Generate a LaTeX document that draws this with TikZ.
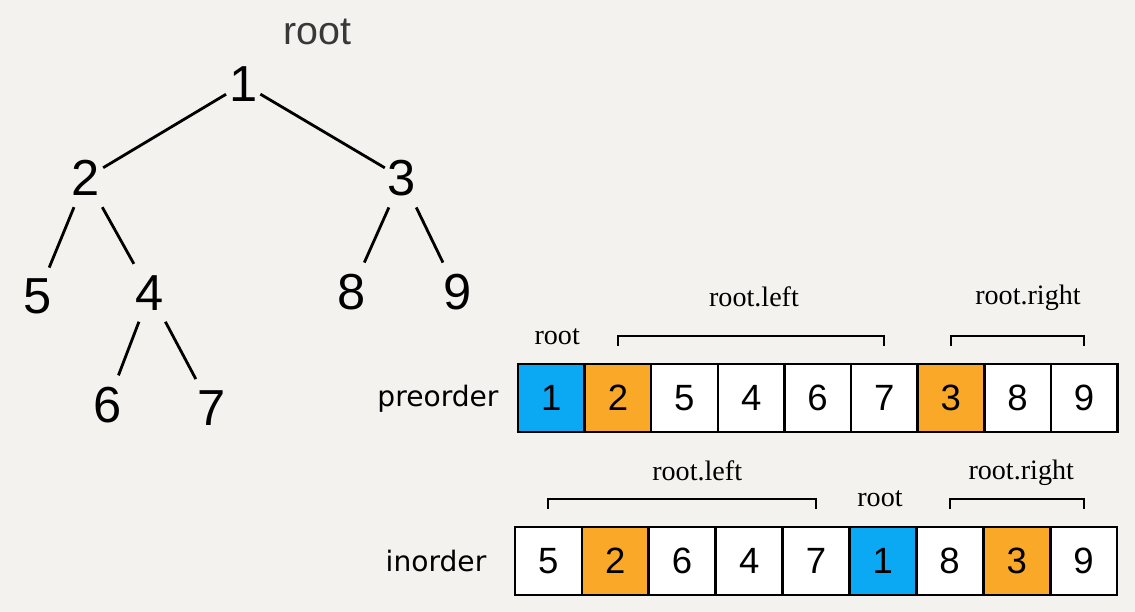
\documentclass[tikz,border=0pt]{standalone}
\usepackage{fontspec}
\setmainfont{Liberation Serif}
\newfontfamily\digitfont{Liberation Sans}
\newfontfamily\tagfont{DejaVu Sans}
\usepackage{tikz}
\usepackage{xcolor}
\definecolor{paper}{HTML}{F3F2EF}
\definecolor{rootblue}{HTML}{0BA9F4}
\definecolor{suborange}{HTML}{F9A828}

\begin{document}
\begin{tikzpicture}[
		t/.style = {font=\digitfont\fontsize{36}{40}\selectfont, inner xsep=2pt, inner ysep=8pt},
		r/.style = {line width=2pt},
		cell/.style = {rectangle, draw=black, fill=white, line width=1.7pt, minimum width=1.665cm, minimum height=1.7cm, inner sep=0, font=\digitfont\fontsize{26}{30}\selectfont},
		hot/.style = {fill=rootblue},
		sub/.style = {fill=suborange},
		br/.style = {line width=1.5pt},
		lbl/.style = {anchor=base, inner sep=0, font=\fontsize{20}{24}\selectfont},
		ord/.style = {anchor=base, inner sep=0, font=\tagfont\fontsize{20}{24}\selectfont}
		]
		
		%Background
		\fill[paper]	(0, 0)	rectangle	(28.375, 15.3);
		
		%Tree
		\node[anchor=base, inner sep=0, text=black!78, font=\digitfont\fontsize{28}{32}\selectfont]	(rt)	at	(7.93, 14.175)	{root};
		\node[t]	(1)	at	(6.08, 13.2)	{1};
		\node[t]	(2)	at	(2.15, 10.85)	{2};
		\node[t]	(3)	at	(10.05, 10.85)	{3};
		\node[t]	(5)	at	(0.93, 7.88)	{5};
		\node[t]	(4)	at	(3.75, 7.98)	{4};
		\node[t]	(8)	at	(8.78, 8.0)	{8};
		\node[t]	(9)	at	(11.43, 8.0)	{9};
		\node[t]	(6)	at	(2.68, 5.18)	{6};
		\node[t]	(7)	at	(5.28, 5.1)	{7};
		
		%Lines
		\draw[r]	(1)	--	(2);
		\draw[r]	(1)	--	(3);
		\draw[r]	(2)	--	(5);
		\draw[r]	(2)	--	(4);
		\draw[r]	(4)	--	(6);
		\draw[r]	(4)	--	(7);
		\draw[r]	(3)	--	(8);
		\draw[r]	(3)	--	(9);
		
		%Preorder
		\node[ord]	(pre)	at	(10.95, 5.125)	{preorder};
		\node[cell, hot]	(p1)	at	(13.78, 5.35)	{1};
		\node[cell, sub]	(p2)	at	(15.45, 5.35)	{2};
		\node[cell]	(p3)	at	(17.11, 5.35)	{5};
		\node[cell]	(p4)	at	(18.78, 5.35)	{4};
		\node[cell]	(p5)	at	(20.44, 5.35)	{6};
		\node[cell]	(p6)	at	(22.11, 5.35)	{7};
		\node[cell, sub]	(p7)	at	(23.77, 5.35)	{3};
		\node[cell]	(p8)	at	(25.44, 5.35)	{8};
		\node[cell]	(p9)	at	(27.10, 5.35)	{9};
		
		\node[lbl]	(proot)	at	(13.93, 6.675)	{root};
		\node[lbl]	(pleft)	at	(18.85, 7.625)	{root.left};
		\node[lbl]	(pright)	at	(25.7, 7.675)	{root.right};
		\draw[br]	([yshift=0.43cm]p2.north)	--	++(0, 0.25)	-|	([yshift=0.43cm]p6.north);
		\draw[br]	([yshift=0.43cm]p7.north)	--	++(0, 0.25)	-|	([yshift=0.43cm]p9.north);
		
		%Inorder
		\node[ord]	(in)	at	(10.9, 1.0)	{inorder};
		\node[cell]	(i1)	at	(13.71, 1.275)	{5};
		\node[cell, sub]	(i2)	at	(15.38, 1.275)	{2};
		\node[cell]	(i3)	at	(17.05, 1.275)	{6};
		\node[cell]	(i4)	at	(18.73, 1.275)	{4};
		\node[cell]	(i5)	at	(20.40, 1.275)	{7};
		\node[cell, hot]	(i6)	at	(22.07, 1.275)	{1};
		\node[cell]	(i7)	at	(23.74, 1.275)	{8};
		\node[cell, sub]	(i8)	at	(25.42, 1.275)	{3};
		\node[cell]	(i9)	at	(27.09, 1.275)	{9};
		
		\node[lbl]	(ileft)	at	(17.43, 3.275)	{root.left};
		\node[lbl]	(iroot)	at	(22.0, 2.625)	{root};
		\node[lbl]	(iright)	at	(25.53, 3.3)	{root.right};
		\draw[br]	([yshift=0.43cm]i1.north)	--	++(0, 0.25)	-|	([yshift=0.43cm]i5.north);
		\draw[br]	([yshift=0.43cm]i7.north)	--	++(0, 0.25)	-|	([yshift=0.43cm]i9.north);
	\end{tikzpicture}
\end{document}
